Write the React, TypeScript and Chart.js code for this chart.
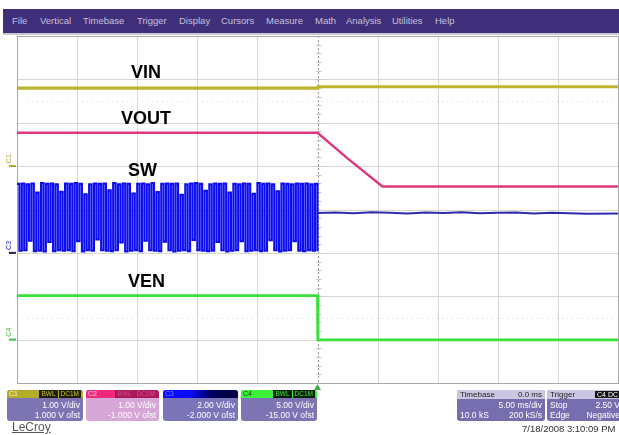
import React, { useEffect, useRef } from "react";
import { Chart, registerables } from "chart.js";

Chart.register(...registerables);

// Timebase: 5 ms/div over 10 divisions, trigger at the centre (t = 0)
const timeMin = -25;
const timeMax = 25;
const msPerDiv = 5;
const yDivisions = 8;

// Vertical settings per channel: V/div and offset (C1..C4)
const channelVdiv = [1.0, 1.0, 2.0, 5.0];
const channelOffset = [1.0, -1.0, -2.0, -15.0];

// C1 - VIN
const vinTime = [-25, 0, 0.05, 25];
const vinVolts = [1.8, 1.8, 1.83, 1.83];

// C2 - VOUT (soft-stop ramp after the enable falls)
const voutTime = [-25, 0, 2.4, 5.4, 25];
const voutVolts = [2.77, 2.77, 2.2, 1.53, 1.53];

// C4 - VEN
const venTime = [-25, 0, 0.03, 25];
const venVolts = [5.08, 5.08, -0.04, -0.04];

// C3 - SW node, acquired samples before the trigger (0.2 ms apart from -25 ms)
const swStart = -25;
const swStep = 0.2;
const swBefore = [
  3.18, 0.1, 3.2, 0.12, 3.16, 0.56, 3.2, 0.08, 2.78, 0.1,
  3.22, 0.06, 3.18, 0.5, 3.2, 0.08, 3.16, 0.12, 2.82, 0.1,
  3.2, 0.12, 3.18, 0.08, 3.22, 0.54, 3.18, 0.06, 2.7, 0.12,
  3.16, 0.1, 3.2, 0.62, 3.18, 0.12, 3.2, 0.1, 2.88, 0.08,
  3.22, 0.12, 3.16, 0.48, 3.2, 0.06, 3.18, 0.1, 2.74, 0.12,
  3.18, 0.08, 3.2, 0.56, 3.16, 0.12, 3.22, 0.1, 2.8, 0.08,
  3.18, 0.52, 3.2, 0.12, 3.18, 0.06, 3.2, 0.1, 2.68, 0.12,
  3.16, 0.08, 3.2, 0.6, 3.22, 0.12, 3.18, 0.1, 2.86, 0.08,
  3.16, 0.1, 3.2, 0.5, 3.18, 0.12, 3.2, 0.06, 2.78, 0.1,
  3.18, 0.12, 3.16, 0.54, 3.2, 0.08, 3.18, 0.1, 2.72, 0.12,
  3.22, 0.08, 3.18, 0.1, 3.2, 0.58, 3.16, 0.12, 2.84, 0.06,
  3.2, 0.1, 3.18, 0.12, 3.16, 0.54, 3.2, 0.1, 3.18, 0.08,
  3.2, 0.12, 3.16, 0.1, 3.18, 0.08,
];
// C3 after the converter stops switching
const swAfterTime = [0, 1.5, 3, 4.5, 6, 7.5, 9, 10.5, 12, 13.5, 15, 16.5, 18, 19.5, 21, 22.5, 25];
const swAfterVolts = [1.84, 1.86, 1.83, 1.87, 1.85, 1.82, 1.86, 1.84, 1.87, 1.83, 1.85, 1.86, 1.82, 1.85, 1.83, 1.8, 1.82];

const menuItems = ["File", "Vertical", "Timebase", "Trigger", "Display", "Cursors", "Measure", "Math", "Analysis", "Utilities", "Help"];
const menuLeft = [12, 40, 83, 137, 179, 221, 266, 315, 346, 392, 435];

const FONT = "'Liberation Sans', Arial, Helvetica, sans-serif";

const pairs = (t: number[], v: number[]) => t.map((x, i) => ({ x, y: v[i] }));

function channelScale(ch: number) {
  const centre = -channelOffset[ch];
  const half = (yDivisions / 2) * channelVdiv[ch];
  return { type: "linear" as const, display: false, min: centre - half, max: centre + half };
}

const scopeScreen = {
  id: "scopeScreen",
  beforeDatasetsDraw(chart: any) {
    const { ctx, chartArea: a, scales } = chart;
    const xs = scales.x;
    const ys = scales.c1;
    const px = (v: number) => Math.round(v) + 0.5;
    const seg = (x1: number, y1: number, x2: number, y2: number) => {
      ctx.beginPath();
      ctx.moveTo(x1, y1);
      ctx.lineTo(x2, y2);
      ctx.stroke();
    };
    ctx.save();
    ctx.lineWidth = 1;
    ctx.strokeStyle = "#d6d6d6";
    for (let i = 1; i < 10; i++) {
      if (i === 5) continue;
      const x = px(xs.getPixelForValue(timeMin + i * msPerDiv));
      seg(x, a.top, x, a.bottom);
    }
    for (let j = 1; j < yDivisions; j++) {
      const y = px(ys.getPixelForValue(ys.min + j * channelVdiv[0]));
      seg(a.left, y, a.right, y);
    }
    // faint half-division guides
    ctx.strokeStyle = "#dcdcdc";
    ctx.setLineDash([1, 4]);
    [ys.min + 1.5 * channelVdiv[0], ys.max - 1.5 * channelVdiv[0]].forEach((v: number) => {
      const y = px(ys.getPixelForValue(v));
      seg(a.left, y, a.right, y);
    });
    // centre time axis, dotted with minor ticks
    const xc = px(xs.getPixelForValue(0));
    ctx.strokeStyle = "#9a9a9a";
    ctx.setLineDash([2, 2]);
    seg(xc, a.top, xc, a.bottom);
    ctx.setLineDash([]);
    ctx.strokeStyle = "#c4c4c4";
    for (let k = 1; k < yDivisions * 5; k++) {
      const y = px(ys.getPixelForValue(ys.min + (k / 5) * channelVdiv[0]));
      seg(xc - 2, y, xc + 3, y);
    }
    // frame
    ctx.strokeStyle = "#a8a8a8";
    ctx.strokeRect(px(a.left), px(a.top), Math.round(a.right - a.left), Math.round(a.bottom - a.top));
    ctx.restore();
  },
  afterDatasetsDraw(chart: any) {
    const { ctx, chartArea: a, scales } = chart;
    ctx.save();
    // trigger position arrow under the grid
    const xt = scales.x.getPixelForValue(0);
    ctx.fillStyle = "#3cb43c";
    ctx.beginPath();
    ctx.moveTo(xt, a.bottom + 1);
    ctx.lineTo(xt - 3.5, a.bottom + 7);
    ctx.lineTo(xt + 3.5, a.bottom + 7);
    ctx.closePath();
    ctx.fill();
    // channel ground markers at the left edge
    const markers = [
      { scale: "c1", label: "C1", color: "#a8a030" },
      { scale: "c3", label: "C3", color: "#2020c0" },
      { scale: "c4", label: "C4", color: "#40c040" },
    ];
    ctx.font = `7px ${FONT}`;
    markers.forEach((m) => {
      const y = scales[m.scale].getPixelForValue(0);
      ctx.strokeStyle = m.scale === "c3" ? "#202040" : m.color;
      ctx.lineWidth = 2;
      ctx.beginPath();
      ctx.moveTo(a.left - 8, y);
      ctx.lineTo(a.left - 1, y);
      ctx.stroke();
      ctx.save();
      ctx.translate(a.left - 6, y - 3);
      ctx.rotate(-Math.PI / 2);
      ctx.fillStyle = m.color;
      ctx.textBaseline = "alphabetic";
      ctx.fillText(m.label, 0, 0);
      ctx.restore();
    });
    ctx.restore();
  },
};

function ScopeChart() {
  const ref = useRef<HTMLCanvasElement | null>(null);
  useEffect(() => {
    if (!ref.current) return;
    const swPoints = swBefore.map((v, i) => ({ x: swStart + i * swStep, y: v }));
    const chart = new Chart(ref.current, {
      type: "line",
      data: {
        datasets: [
          { label: "SW", data: swPoints, yAxisID: "c3", borderColor: "#0c0cf0", borderWidth: 2.1, stepped: "before" as const },
          { label: "SW off", data: pairs(swAfterTime, swAfterVolts), yAxisID: "c3", borderColor: "#2c2caa", borderWidth: 2 },
          { label: "VOUT", data: pairs(voutTime, voutVolts), yAxisID: "c2", borderColor: "#e0357f", borderWidth: 2.4 },
          { label: "VIN", data: pairs(vinTime, vinVolts), yAxisID: "c1", borderColor: "#bdb530", borderWidth: 3.2 },
          { label: "VEN", data: pairs(venTime, venVolts), yAxisID: "c4", borderColor: "#38e038", borderWidth: 2.8 },
        ],
      },
      options: {
        responsive: false,
        maintainAspectRatio: false,
        animation: false,
        parsing: false as any,
        normalized: true,
        layout: { padding: { left: 17, top: 36, right: 1, bottom: 52 } },
        elements: { point: { radius: 0 }, line: { tension: 0 } },
        plugins: { legend: { display: false }, tooltip: { enabled: false } },
        scales: {
          x: { type: "linear", display: false, min: timeMin, max: timeMax },
          c1: channelScale(0),
          c2: channelScale(1),
          c3: channelScale(2),
          c4: channelScale(3),
        },
      },
      plugins: [scopeScreen],
    });
    return () => chart.destroy();
  }, []);
  return <canvas ref={ref} width={619} height={435} style={{ position: "absolute", left: 0, top: 0, display: "block" }} />;
}

const traceLabel = (text: string, left: number, top: number) => (
  <div key={text} style={{ position: "absolute", left, top, font: `bold 18px ${FONT}`, lineHeight: "18px", color: "#000" }}>
    {text}
  </div>
);

function Tag({ text, bg, color }: { text: string; bg: string; color: string }) {
  return (
    <span style={{ background: bg, color, padding: "0 2px", marginLeft: 1, font: `6.5px ${FONT}`, lineHeight: "8px", height: 8, display: "inline-block" }}>{text}</span>
  );
}

function ChannelBox(props: {
  left: number;
  width: number;
  head: string;
  name: string;
  nameColor: string;
  tags: { text: string; bg: string; color: string }[];
  body: string;
  line1: string;
  line2: string;
}) {
  return (
    <div style={{ position: "absolute", left: props.left, top: 390, width: props.width, height: 31, borderRadius: 3, overflow: "hidden", background: props.body }}>
      <div style={{ height: 8, background: props.head, display: "flex", alignItems: "center", justifyContent: "space-between" }}>
        <span style={{ font: `7px ${FONT}`, color: props.nameColor, paddingLeft: 2, lineHeight: "8px" }}>{props.name}</span>
        <span style={{ display: "flex", paddingRight: 2 }}>
          {props.tags.map((t) => (
            <Tag key={t.text} {...t} />
          ))}
        </span>
      </div>
      <div style={{ font: `8.5px ${FONT}`, color: "#fff", textAlign: "right", paddingRight: 3, lineHeight: "10px", marginTop: 2 }}>
        <div>{props.line1}</div>
        <div>{props.line2}</div>
      </div>
    </div>
  );
}

function StatusBox(props: { left: number; width: number; title: string; headRight: React.ReactNode; rows: [string, string][] }) {
  return (
    <div style={{ position: "absolute", left: props.left, top: 390, width: props.width, height: 31, borderRadius: 3, overflow: "hidden", background: "#766eae" }}>
      <div style={{ height: 9, background: "#cbc7e2", display: "flex", alignItems: "center", justifyContent: "space-between", padding: "0 3px", font: `8px ${FONT}`, color: "#222", lineHeight: "9px" }}>
        <span>{props.title}</span>
        <span>{props.headRight}</span>
      </div>
      <div style={{ font: `8.5px ${FONT}`, color: "#fff", lineHeight: "10px", marginTop: 1, padding: "0 3px" }}>
        {props.rows.map(([l, r], i) => (
          <div key={i} style={{ display: "flex", justifyContent: "space-between", whiteSpace: "nowrap" }}>
            <span>{l}</span>
            <span>{r}</span>
          </div>
        ))}
      </div>
    </div>
  );
}

export default function App() {
  return (
    <div style={{ position: "fixed", left: 0, top: 0, width: 619, height: 435, background: "#fff", overflow: "hidden", fontFamily: FONT }}>
      <div style={{ position: "absolute", left: 3, top: 9, width: 616, height: 24, background: "#3f2f7b" }}>
        {menuItems.map((m, i) => (
          <span key={m} style={{ position: "absolute", left: menuLeft[i] - 3, top: 6, font: `9.5px ${FONT}`, color: "#c4c0dc", lineHeight: "12px", whiteSpace: "nowrap" }}>
            {m}
          </span>
        ))}
      </div>
      <div style={{ position: "absolute", left: 3, top: 33, width: 616, height: 2, background: "#c8c8d0" }} />
      <ScopeChart />
      {traceLabel("VIN", 131, 63)}
      {traceLabel("VOUT", 121, 109)}
      {traceLabel("SW", 128, 161)}
      {traceLabel("VEN", 128, 272)}

      <ChannelBox left={7} width={76} head="#b5ad28" name="C1" nameColor="#f6f2c8" body="#7d74b4"
        tags={[{ text: "BWL", bg: "#1e1e0c", color: "#c8c030" }, { text: "DC1M", bg: "#1e1e0c", color: "#c8c030" }]}
        line1="1.00 V/div" line2="1.000 V ofst" />
      <ChannelBox left={86} width={73} head="linear-gradient(90deg, #f2287e 0%, #f2287e 40%, #a8185a 40%)" name="C2" nameColor="#ffd0e4" body="#d6a6d6"
        tags={[{ text: "BWL", bg: "#a8185a", color: "#e04a8c" }, { text: "DC1M", bg: "#a8185a", color: "#e04a8c" }]}
        line1="1.00 V/div" line2="-1.000 V ofst" />
      <ChannelBox left={163} width={75} head="linear-gradient(90deg, #0a0aff 0%, #0a0aff 35%, #00005a 65%, #000040 100%)" name="C3" nameColor="#8080ff" body="#7a74b8"
        tags={[]}
        line1="2.00 V/div" line2="-2.000 V ofst" />
      <ChannelBox left={241} width={76} head="#3cf03c" name="C4" nameColor="#104010" body="#7d74b4"
        tags={[{ text: "BWL", bg: "#0c1c0c", color: "#40e040" }, { text: "DC1M", bg: "#0c1c0c", color: "#40e040" }]}
        line1="5.00 V/div" line2="-15.00 V ofst" />

      <StatusBox left={457} width={88} title="Timebase" headRight="0.0 ms"
        rows={[["", "5.00 ms/div"], ["10.0 kS", "200 kS/s"]]} />
      <StatusBox left={547} width={76} title="Trigger"
        headRight={<span style={{ background: "#111", color: "#fff", padding: "0 2px", fontSize: 7 }}>C4 DC</span>}
        rows={[["Stop", "2.50 V"], ["Edge", "Negative"]]} />

      <div style={{ position: "absolute", left: 12, top: 421, font: `12px ${FONT}`, color: "#585858", textDecoration: "underline", lineHeight: "13px" }}>LeCroy</div>
      <div style={{ position: "absolute", left: 522, top: 423, font: `9.5px ${FONT}`, color: "#333", lineHeight: "11px", whiteSpace: "nowrap" }}>7/18/2008 3:10:09 PM</div>
    </div>
  );
}
